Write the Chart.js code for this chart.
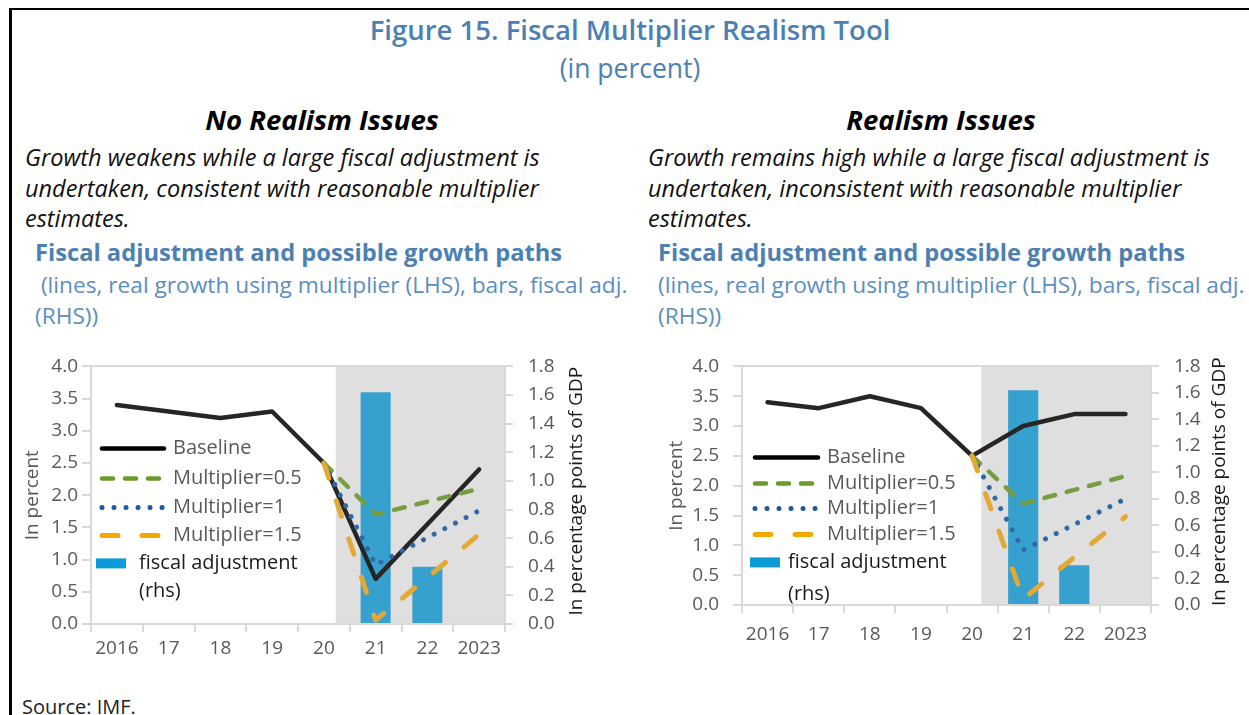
<!DOCTYPE html>
<html><head><meta charset="utf-8">
<script src="https://cdn.jsdelivr.net/npm/chart.js@4.4.1/dist/chart.umd.min.js"></script>
<style>
html,body{margin:0;padding:0;}
body{width:1249px;height:715px;position:relative;overflow:hidden;background:#fff;font-family:'Open Sans',sans-serif;}
.t{position:absolute;white-space:nowrap;line-height:30px;height:30px;}
.blue{color:#4d80b2;}
.lblue{color:#5b8ec0;}
.desc{font-style:italic;font-size:23.5px;color:#111;}
.sec{font-weight:700;font-style:italic;font-size:27.5px;color:#000;text-align:center;}
.sub{font-weight:700;font-size:23.7px;}
.sub2{font-size:22.7px;}
.cv{position:absolute;}
</style></head><body>
<div style="position:absolute;left:9px;top:8px;right:0;height:2px;background:#000"></div>
<div style="position:absolute;left:9px;top:8px;width:3px;bottom:0;background:#000"></div>

<div class="t blue" style="left:130px;width:1000px;top:15px;text-align:center;font-weight:600;font-size:27.5px;">Figure 15. Fiscal Multiplier Realism Tool</div>
<div class="t blue" style="left:130px;width:1000px;top:53px;text-align:center;font-size:26.5px;">(in percent)</div>

<div class="t sec" style="left:122px;width:400px;top:105px;">No Realism Issues</div>
<div class="t sec" style="left:741px;width:400px;top:105px;">Realism Issues</div>

<div class="t desc" style="left:25px;top:142px;">Growth weakens while a large fiscal adjustment is</div>
<div class="t desc" style="left:25px;top:173px;">undertaken, consistent with reasonable multiplier</div>
<div class="t desc" style="left:25px;top:203px;">estimates.</div>
<div class="t desc" style="left:648px;top:142px;">Growth remains high while a large fiscal adjustment is</div>
<div class="t desc" style="left:648px;top:173px;">undertaken, inconsistent with reasonable multiplier</div>
<div class="t desc" style="left:648px;top:203px;">estimates.</div>

<div class="t blue sub" style="left:35px;top:237px;">Fiscal adjustment and possible growth paths</div>
<div class="t lblue sub2" style="left:35px;top:270px;">&nbsp;(lines, real growth using multiplier (LHS), bars, fiscal adj.</div>
<div class="t lblue sub2" style="left:35px;top:301px;">(RHS))</div>
<div class="t blue sub" style="left:658px;top:237px;">Fiscal adjustment and possible growth paths</div>
<div class="t lblue sub2" style="left:658px;top:270px;">(lines, real growth using multiplier (LHS), bars, fiscal adj.</div>
<div class="t lblue sub2" style="left:658px;top:301px;">(RHS))</div>

<div class="t" style="left:22px;top:692px;font-size:20px;color:#222;">Source: IMF.</div>

<canvas id="c1" class="cv" width="620" height="330" style="left:0;top:340px;width:620px;height:330px;"></canvas>
<canvas id="c2" class="cv" width="619" height="330" style="left:630px;top:340px;width:619px;height:330px;"></canvas>

<script>
// ---- data ----
const categories = ['2016','17','18','19','20','21','22','2023'];
const seriesLabels = ['Baseline','Multiplier=0.5','Multiplier=1','Multiplier=1.5','fiscal adjustment'];

const leftBaseline = [3.4, 3.3, 3.2, 3.3, 2.5, 0.7, 1.55, 2.4];
const leftMult05   = [null, null, null, null, 2.5, 1.7, 1.9, 2.1];
const leftMult1    = [null, null, null, null, 2.5, 0.92, 1.34, 1.76];
const leftMult15   = [null, null, null, null, 2.5, 0.06, 0.72, 1.39];
const leftFiscal   = [null, null, null, null, null, 1.62, 0.4, null];

const rightBaseline = [3.4, 3.3, 3.5, 3.3, 2.5, 3.0, 3.2, 3.2];
const rightMult05   = [null, null, null, null, 2.5, 1.7, 1.93, 2.16];
const rightMult1    = [null, null, null, null, 2.5, 0.92, 1.35, 1.78];
const rightMult15   = [null, null, null, null, 2.5, 0.1, 0.8, 1.48];
const rightFiscal   = [null, null, null, null, null, 1.62, 0.3, null];

const leftTicks  = [0, 0.5, 1, 1.5, 2, 2.5, 3, 3.5, 4];
const rightTicks = [0, 0.2, 0.4, 0.6, 0.8, 1.0, 1.2, 1.4, 1.6, 1.8];

// ---- styling ----
const FONT = "'Open Sans', sans-serif";
const AX = '#d9d9d9';
const TXT = '#595959';

const shadePlugin = {
  id: 'shade',
  beforeDraw(chart, args, o) {
    const {ctx, chartArea: a, scales: {x}} = chart;
    const x0 = x.getPixelForValue(o.start) + o.frac * (x.getPixelForValue(1) - x.getPixelForValue(0));
    ctx.save();
    ctx.fillStyle = '#dfdfdf';
    ctx.fillRect(x0, a.top, a.right - x0, a.bottom - a.top);
    ctx.restore();
  }
};

const sideTitles = {
  id: 'sideTitles',
  afterDraw(chart, args, o) {
    const {ctx, chartArea: a, scales} = chart;
    const cy = (a.top + a.bottom) / 2;
    ctx.save();
    ctx.font = '19px ' + FONT;
    ctx.textAlign = 'center';
    ctx.textBaseline = 'middle';
    ctx.translate(scales.y.left + o.leftOffset, cy);
    ctx.rotate(-Math.PI / 2);
    ctx.fillStyle = TXT;
    ctx.fillText(o.leftText, 0, 0);
    ctx.restore();
    ctx.save();
    ctx.font = '19px ' + FONT;
    ctx.textAlign = 'center';
    ctx.textBaseline = 'middle';
    ctx.translate(scales.y1.right - o.rightOffset, cy + o.rightDy);
    ctx.rotate(-Math.PI / 2);
    ctx.fillStyle = '#1a1a1a';
    ctx.fillText(o.rightText, 0, 0);
    ctx.restore();
  }
};

const insideLegend = {
  id: 'insideLegend',
  afterDraw(chart, args, o) {
    const {ctx, chartArea: a} = chart;
    const ds = chart.data.datasets;
    ctx.save();
    ctx.font = '20px ' + FONT;
    ctx.textBaseline = 'middle';
    ctx.textAlign = 'left';
    let li = 0;
    ds.forEach(d => {
      if (d.type !== 'line') return;
      const y = a.top + o.rows[li++];
      const x0 = a.left + o.lineX;
      ctx.beginPath();
      ctx.setLineDash(d.borderDash || []);
      ctx.lineCap = 'round';
      ctx.lineWidth = d.borderWidth;
      ctx.strokeStyle = d.legendColor || d.borderColor;
      ctx.moveTo(x0 + 2, y);
      ctx.lineTo(x0 + o.lineW - 2, y);
      ctx.stroke();
      ctx.setLineDash([]);
      ctx.fillStyle = TXT;
      ctx.fillText(d.label, x0 + o.textDX, y);
    });
    ds.forEach(d => {
      if (d.type !== 'bar') return;
      const y = a.top + o.barRow;
      const bx = a.left + o.boxX;
      ctx.fillStyle = d.legendColor || d.backgroundColor;
      ctx.fillRect(bx, y - 5, 30, 10);
      ctx.fillStyle = '#1a1a1a';
      ctx.fillText(d.label, bx + o.boxTextDX, y);
      ctx.fillText('(rhs)', bx + o.boxTextDX, a.top + o.rhsRow);
    });
    ctx.restore();
  }
};

function makeChart(id, base, m05, m1, m15, fiscal, L) {
  const tickFont = {family: FONT, size: 19};
  return new Chart(document.getElementById(id), {
    data: {
      labels: categories,
      datasets: [
        {type: 'bar', label: seriesLabels[4], data: fiscal, yAxisID: 'y1', order: 10,
         backgroundColor: '#36a1ce', legendColor: '#0b9bd7', barPercentage: L.barPct, categoryPercentage: 1},
        {type: 'line', label: seriesLabels[0], data: base, yAxisID: 'y', order: 4,
         borderColor: '#262626', legendColor: '#000', borderWidth: 4.5, pointRadius: 0,
         borderCapStyle: 'round', borderJoinStyle: 'round'},
        {type: 'line', label: seriesLabels[1], data: m05, yAxisID: 'y', order: 3,
         borderColor: '#789c40', legendColor: '#6a9a2a', borderWidth: 4.5, pointRadius: 0, borderDash: [11, 12],
         borderCapStyle: 'round', borderJoinStyle: 'round'},
        {type: 'line', label: seriesLabels[2], data: m1, yAxisID: 'y', order: 2,
         borderColor: '#2f69a6', legendColor: '#1d59a0', borderWidth: 5, pointRadius: 0, borderDash: [0.01, 12],
         borderCapStyle: 'round', borderJoinStyle: 'round'},
        {type: 'line', label: seriesLabels[3], data: m15, yAxisID: 'y', order: 1,
         borderColor: '#e2a935', legendColor: '#f2a800', borderWidth: 5, pointRadius: 0, borderDash: [16, 24],
         borderCapStyle: 'round', borderJoinStyle: 'round'}
      ]
    },
    options: {
      responsive: false,
      animation: false,
      events: [],
      layout: {padding: {top: 25, left: 0, right: 0, bottom: 0}},
      plugins: {
        legend: {display: false},
        tooltip: {enabled: false},
        shade: {start: 4, frac: L.shadeFrac},
        sideTitles: {leftText: 'In percent', rightText: 'In percentage points of GDP',
                     leftOffset: L.lt, rightOffset: L.rt, rightDy: -4},
        insideLegend: L.legend
      },
      scales: {
        x: {
          type: 'category', offset: true,
          grid: {offset: true, drawOnChartArea: false, color: AX, tickColor: AX, tickLength: 8, lineWidth: 2},
          border: {color: AX, width: 2},
          ticks: {font: tickFont, color: TXT, padding: L.xPad, maxRotation: 0, autoSkip: false},
          afterFit: s => { s.height = L.xH; }
        },
        y: {
          position: 'left', min: 0, max: 4,
          afterBuildTicks: s => { s.ticks = leftTicks.map(v => ({value: v})); },
          ticks: {font: tickFont, color: TXT, padding: L.yPad, callback: v => Number(v).toFixed(1)},
          grid: {color: c => (c.tick && c.tick.value === 4) ? AX : 'rgba(0,0,0,0)', tickColor: AX, tickLength: 9, lineWidth: 2},
          border: {color: AX, width: 2},
          afterFit: s => { s.width = L.yW; }
        },
        y1: {
          position: 'right', min: 0, max: 1.8,
          afterBuildTicks: s => { s.ticks = rightTicks.map(v => ({value: v})); },
          ticks: {font: tickFont, color: TXT, padding: L.y1Pad, callback: v => Number(v).toFixed(1)},
          grid: {drawOnChartArea: false, color: AX, tickColor: AX, tickLength: 8, lineWidth: 2},
          border: {color: AX, width: 2},
          afterFit: s => { s.width = L.y1W; }
        }
      }
    },
    plugins: [shadePlugin, sideTitles, insideLegend]
  });
}

makeChart('c1', leftBaseline, leftMult05, leftMult1, leftMult15, leftFiscal, {
  barPct: 0.58, shadeFrac: 0.23, xPad: 5, xH: 46, yPad: 4, yW: 91, y1Pad: 15, y1W: 115, lt: 33, rt: 43,
  legend: {lineX: 9, lineW: 66, textDX: 73, rows: [82, 112, 141, 169], boxX: 5, boxTextDX: 43, barRow: 197, rhsRow: 225}
});
makeChart('c2', rightBaseline, rightMult05, rightMult1, rightMult15, rightFiscal, {
  barPct: 0.59, shadeFrac: 0.18, xPad: 10, xH: 65, yPad: 14, yW: 112, y1Pad: 15, y1W: 98, lt: 47, rt: 29,
  legend: {lineX: 11, lineW: 67, textDX: 74, rows: [91, 117, 142, 168], boxX: 8, boxTextDX: 38, barRow: 196, rhsRow: 228}
});
</script>
</body></html>
